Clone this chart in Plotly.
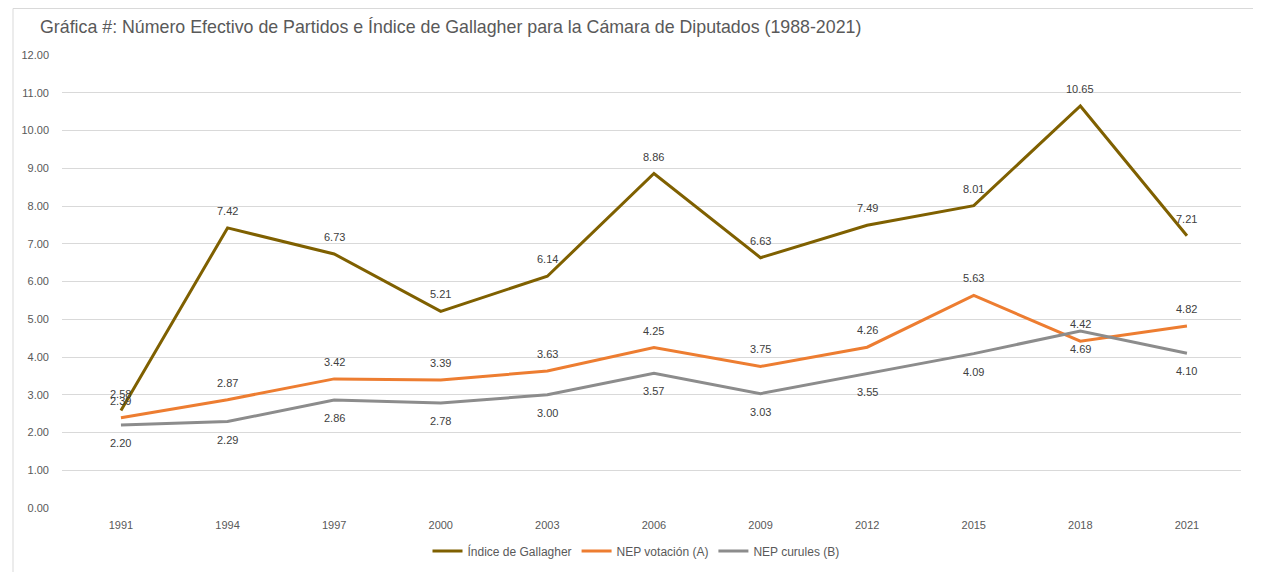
import plotly.graph_objects as go

years = ["1991", "1994", "1997", "2000", "2003", "2006", "2009", "2012", "2015", "2018", "2021"]
gallagher = [2.58, 7.42, 6.73, 5.21, 6.14, 8.86, 6.63, 7.49, 8.01, 10.65, 7.21]
nep_votacion = [2.39, 2.87, 3.42, 3.39, 3.63, 4.25, 3.75, 4.26, 5.63, 4.42, 4.82]
nep_curules = [2.20, 2.29, 2.86, 2.78, 3.00, 3.57, 3.03, 3.55, 4.09, 4.69, 4.10]
y_ticks = [0, 1, 2, 3, 4, 5, 6, 7, 8, 9, 10, 11, 12]

# page body has an 8px margin; work in window pixel coords and subtract it
OFF = 8
WIN_W, WIN_H = 1261, 572
W, H = WIN_W - OFF, WIN_H - OFF
L = 62 - OFF
T = 55 - OFF
R = WIN_W - 1241
B = WIN_H - 508
pw, ph = W - L - R, H - T - B


def px(x):
    return (x - OFF - L) / pw


def py(y):
    return (H - B - (y - OFF)) / ph


series = [
    ("Índice de Gallagher", gallagher, "#7F6000", 17),
    ("NEP votación (A)", nep_votacion, "#ED7D31", 17),
    ("NEP curules (B)", nep_curules, "#8C8C8C", -18),
]

fig = go.Figure()
annotations = []
for name, vals, color, shift in series:
    fig.add_trace(go.Scatter(
        x=list(range(len(years))), y=vals, name=name, mode="lines",
        line=dict(color=color, width=3), hoverinfo="x+y"))
    for i, v in enumerate(vals):
        annotations.append(dict(
            x=i, y=v, xref="x", yref="y", text=f"{v:.2f}", showarrow=False,
            yshift=shift, font=dict(family="Liberation Sans, Arial", size=11, color="#404040")))

annotations.append(dict(
    x=px(38), y=py(27), xref="paper", yref="paper",
    xanchor="left", yanchor="middle", showarrow=False,
    text="Gráfica #: Número Efectivo de Partidos e Índice de Gallagher para la Cámara de Diputados (1988-2021)",
    font=dict(family="Liberation Sans, Arial", size=17.8, color="#595959")))

fig.update_layout(
    width=W, height=H,
    margin=dict(l=L, r=R, t=T, b=B, autoexpand=False),
    paper_bgcolor="white", plot_bgcolor="white",
    font=dict(family="Liberation Sans, Arial", size=11, color="#595959"),
    showlegend=True,
    legend=dict(orientation="h", xref="container", yref="container",
                x=(636 - OFF) / W, xanchor="center",
                y=(H - (551 - OFF)) / H, yanchor="middle",
                font=dict(size=12, color="#595959"), itemwidth=30, tracegroupgap=0),
    annotations=annotations,
    shapes=[dict(type="rect", xref="paper", yref="paper",
                 x0=px(13), x1=px(1256),
                 y0=py(590), y1=py(OFF + 0.5),
                 line=dict(color="#D9D9D9", width=1), fillcolor="rgba(0,0,0,0)", layer="below")],
)
fig.update_xaxes(
    range=[-0.553, 10.507], tickmode="array", tickvals=list(range(len(years))), ticktext=years,
    showgrid=False, zeroline=False, showline=False, ticks="", automargin=False,
    ticklabelstandoff=9, tickfont=dict(size=11, color="#595959"))
fig.update_yaxes(
    range=[0, 12], tickmode="array", tickvals=y_ticks, ticktext=[f"{v:.2f}" for v in y_ticks],
    showgrid=True, gridcolor="#D9D9D9", gridwidth=1, zeroline=False, showline=False, automargin=False,
    ticks="", ticklabelstandoff=12, tickfont=dict(size=11, color="#595959"))

fig.write_html("out.html")
